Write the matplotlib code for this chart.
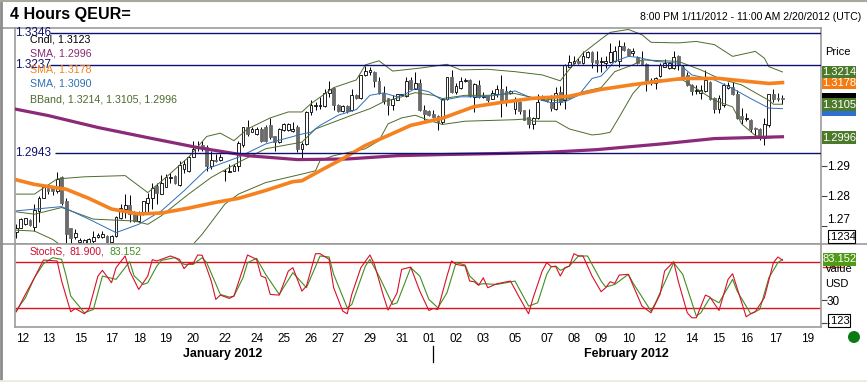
import numpy as np
import matplotlib
matplotlib.use("Agg")
import matplotlib.pyplot as plt
from matplotlib.lines import Line2D
from matplotlib.patches import Rectangle, Circle

plt.rcParams['font.family'] = ['Liberation Sans', 'DejaVu Sans']

W, H = 867, 382

# candles, one value per 4 hour bar
highs = [1.2707,1.2727,1.2729,1.2724,1.2773,1.2800,1.2833,1.2833,1.2833,1.2878,1.2867,1.2794,1.2696,1.2691,1.2661,1.2658,1.2661,1.2685,1.2680,1.2685,
         1.2673,1.2673,1.2735,1.2773,1.2806,1.2804,1.2751,1.2749,1.2782,1.2811,1.2841,1.2844,1.2870,1.2872,1.2874,1.2870,1.2914,1.2917,1.2933,1.2983,
         1.2983,1.2983,1.2967,1.2950,1.2939,1.2939,1.2889,1.2906,1.2906,1.2983,1.3030,1.3051,1.3030,1.3030,1.3028,1.3034,1.3060,1.3000,1.3025,1.3041,
         1.3041,1.3045,1.3034,
         1.2978,1.3082,1.3118,1.3113,1.3130,1.3158,1.3184,1.3164,1.3107,1.3102,1.3102,1.3158,1.3138,1.3205,1.3235,1.3232,1.3217,1.3196,1.3166,1.3127,
         1.3135,1.3141,1.3141,1.3196,1.3196,1.3215,1.3189,1.3104,1.3084,1.3084,1.3068,1.3124,1.3198,1.3219,1.3175,1.3196,1.3192,1.3189,1.3175,1.3187,
         1.3147,1.3134,1.3154,1.3170,1.3204,1.3166,1.3154,1.3130,1.3115,1.3087,1.3090,1.3062,1.3138,1.3135,1.3120,1.3135,1.3164,1.3166,1.3240,1.3273,
         1.3267,1.3261,1.3284,1.3284,1.3284,1.3284,
         1.3264,1.3267,1.3313,1.3301,1.3324,1.3315,1.3295,1.3295,1.3267,1.3284,1.3244,1.3192,1.3198,1.3244,1.3258,1.3246,1.3284,1.3273,1.3238,1.3215,
         1.3172,1.3170,1.3170,1.3219,1.3184,1.3130,1.3135,1.3175,1.3181,1.3181,1.3152,1.3093,1.3075,1.3056,1.3030,1.3024,1.3060,1.3141,1.3158,1.3143,1.3137]
lows = [1.2664,1.2694,1.2705,1.2702,1.2685,1.2713,1.2792,1.2806,1.2804,1.2811,1.2771,1.2642,1.2642,1.2658,1.2644,1.2637,1.2637,1.2647,1.2661,1.2661,
        1.2647,1.2647,1.2667,1.2724,1.2729,1.2713,1.2713,1.2716,1.2738,1.2740,1.2756,1.2775,1.2806,1.2828,1.2844,1.2839,1.2833,1.2874,1.2878,1.2928,
        1.2950,1.2950,1.2883,1.2889,1.2911,1.2914,1.2850,1.2878,1.2881,1.2883,1.2963,1.3000,1.3011,1.3003,1.2980,1.2978,1.2989,1.2950,1.2975,1.3014,
        1.3014,1.3011,1.2944,
        1.2922,1.2970,1.3068,1.3084,1.3090,1.3096,1.3130,1.3087,1.3079,1.3079,1.3076,1.3082,1.3124,1.3124,1.3201,1.3204,1.3164,1.3141,1.3107,1.3068,
        1.3087,1.3118,1.3132,1.3130,1.3155,1.3155,1.3082,1.3053,1.3064,1.3060,1.3017,1.3039,1.3118,1.3143,1.3141,1.3158,1.3181,1.3130,1.3079,1.3127,
        1.3127,1.3113,1.3122,1.3130,1.3062,1.3098,1.3141,1.3073,1.3071,1.3051,1.3025,1.3022,1.3056,1.3118,1.3114,1.3082,1.3084,1.3101,1.3090,1.3230,
        1.3241,1.3241,1.3241,1.3262,1.3227,1.3215,
        1.3215,1.3227,1.3244,1.3247,1.3232,1.3284,1.3269,1.3269,1.3241,1.3238,1.3150,1.3170,1.3158,1.3198,1.3230,1.3225,1.3225,1.3221,1.3192,1.3166,
        1.3135,1.3141,1.3124,1.3147,1.3118,1.3075,1.3075,1.3096,1.3158,1.3135,1.3056,1.3039,1.3048,1.3011,1.2992,1.2985,1.2967,1.3030,1.3113,1.3116,1.3107]
opens = [1.2683,1.2696,1.2707,1.2720,1.2698,1.2751,1.2794,1.2826,1.2826,1.2817,1.2861,1.2784,1.2696,1.2666,1.2651,1.2644,1.2644,1.2653,1.2666,1.2666,
         1.2669,1.2651,1.2669,1.2729,1.2756,1.2771,1.2740,1.2718,1.2740,1.2778,1.2794,1.2833,1.2808,1.2830,1.2859,1.2865,1.2837,1.2889,1.2881,1.2930,
         1.2959,1.2967,1.2963,1.2900,1.2919,1.2917,1.2881,1.2880,1.2883,1.2900,1.2967,1.3028,1.3013,1.3005,1.3022,1.3030,1.3034,1.2997,1.2978,1.3017,
         1.3017,1.3014,1.3028,
         1.2956,1.2972,1.3079,1.3100,1.3100,1.3098,1.3143,1.3161,1.3104,1.3082,1.3100,1.3084,1.3135,1.3127,1.3203,1.3215,1.3215,1.3183,1.3143,1.3125,
         1.3104,1.3120,1.3135,1.3132,1.3187,1.3158,1.3175,1.3084,1.3081,1.3071,1.3065,1.3045,1.3122,1.3196,1.3147,1.3161,1.3183,1.3187,1.3130,1.3170,
         1.3130,1.3132,1.3124,1.3139,1.3158,1.3150,1.3143,1.3090,1.3113,1.3084,1.3062,1.3037,1.3059,1.3120,1.3118,1.3113,1.3090,1.3147,1.3118,1.3232,
         1.3244,1.3250,1.3244,1.3264,1.3282,1.3253,
         1.3247,1.3244,1.3247,1.3250,1.3250,1.3304,1.3292,1.3278,1.3264,1.3255,1.3241,1.3187,1.3175,1.3201,1.3232,1.3227,1.3227,1.3267,1.3232,1.3204,
         1.3170,1.3150,1.3143,1.3150,1.3181,1.3127,1.3090,1.3104,1.3161,1.3164,1.3139,1.3064,1.3056,1.3053,1.3025,1.3022,1.2992,1.3034,1.3141,1.3127,1.3127]
closes = [1.2696,1.2724,1.2727,1.2705,1.2753,1.2794,1.2828,1.2817,1.2817,1.2856,1.2778,1.2675,1.2664,1.2680,1.2655,1.2655,1.2658,1.2666,1.2673,1.2675,
          1.2651,1.2669,1.2731,1.2760,1.2771,1.2740,1.2718,1.2742,1.2784,1.2794,1.2826,1.2811,1.2844,1.2861,1.2863,1.2841,1.2903,1.2906,1.2930,1.2956,
          1.2963,1.2956,1.2900,1.2917,1.2914,1.2928,1.2883,1.2883,1.2900,1.2975,1.3028,1.3005,1.3022,1.3022,1.2983,1.2983,1.2994,1.2978,1.3022,1.3037,
          1.3037,1.3022,1.2956,
          1.2972,1.3079,1.3104,1.3104,1.3103,1.3143,1.3155,1.3104,1.3082,1.3100,1.3082,1.3135,1.3126,1.3203,1.3217,1.3219,1.3183,1.3143,1.3116,1.3104,
          1.3123,1.3139,1.3139,1.3183,1.3158,1.3175,1.3084,1.3073,1.3068,1.3062,1.3045,1.3122,1.3196,1.3147,1.3166,1.3183,1.3187,1.3132,1.3173,1.3130,
          1.3134,1.3120,1.3143,1.3155,1.3118,1.3116,1.3150,1.3120,1.3081,1.3053,1.3037,1.3059,1.3113,1.3123,1.3116,1.3093,1.3143,1.3113,1.3238,1.3247,
          1.3252,1.3244,1.3269,1.3282,1.3247,1.3246,
          1.3252,1.3252,1.3282,1.3284,1.3304,1.3288,1.3273,1.3284,1.3244,1.3241,1.3181,1.3175,1.3192,1.3238,1.3246,1.3244,1.3264,1.3241,1.3196,1.3170,
          1.3150,1.3152,1.3152,1.3187,1.3124,1.3090,1.3127,1.3170,1.3170,1.3139,1.3059,1.3056,1.3059,1.3022,1.3022,1.2992,1.3039,1.3139,1.3123,1.3124,1.3123]

# overlays, read at the bars where the line bends
purple_bars = [0,7,18,29,40,51,62,73,84,95,106,117,128,143,154,169]
purple_vals = [1.3088,1.3067,1.3027,1.2993,1.2960,1.2933,1.2920,1.2922,1.2933,1.2937,1.2940,1.2944,1.2953,1.2973,1.2990,1.2996]

orange_bars = [0,4,11,16,21,27,32,38,44,49,55,61,63,67,72,77,82,87,94,101,107,114,122,129,136,141,147,155,162,166,169]
orange_vals = [1.2853,1.2838,1.2822,1.2792,1.2757,1.2741,1.2744,1.2760,1.2779,1.2792,1.2818,1.2847,1.2850,1.2883,1.2923,1.2967,1.3000,1.3034,1.3058,1.3097,
               1.3111,1.3125,1.3132,1.3155,1.3171,1.3181,1.3192,1.3192,1.3181,1.3175,1.3178]

blue_bars = [0,10,16,22,27,32,37,42,49,55,63,65,67,71,75,78,81,84,86,88,91,94,98,102,106,110,113,118,121,124,127,129,132,135,137,141,146,149,154,158,162,166,169]
blue_vals = [1.2751,1.2765,1.2724,1.2680,1.2707,1.2751,1.2817,1.2889,1.2928,1.2972,1.3005,1.3011,1.3034,1.3068,1.3087,1.3135,1.3143,1.3130,1.3141,1.3158,
             1.3147,1.3118,1.3130,1.3130,1.3135,1.3150,1.3130,1.3110,1.3113,1.3135,1.3192,1.3200,1.3250,1.3267,1.3264,1.3250,1.3244,1.3204,1.3187,1.3158,
             1.3124,1.3092,1.3090]

upper_bars = [0,4,9,15,24,29,33,38,42,45,48,51,56,60,63,65,70,75,77,80,83,89,95,98,104,110,116,120,121,125,129,131,135,138,140,146,150,154,158,163,165,166,169]
upper_vals = [1.2806,1.2806,1.2856,1.2863,1.2867,1.2811,1.2861,1.2928,1.2997,1.3008,1.2983,1.3022,1.3059,1.3079,1.3079,1.3107,1.3161,1.3187,1.3238,1.3252,
              1.3217,1.3227,1.3240,1.3221,1.3223,1.3215,1.3204,1.3184,1.3204,1.3278,1.3326,1.3349,1.3359,1.3341,1.3315,1.3313,1.3318,1.3307,1.3267,1.3284,
              1.3261,1.3232,1.3214]

mid_bars = [0,4,10,17,26,29,32,38,43,49,55,63,66,70,74,78,81,85,88,92,94,99,104,110,114,119,122,125,129,132,136,138,146,151,155,160,166,167,169]
mid_vals = [1.2748,1.2740,1.2762,1.2724,1.2718,1.2707,1.2735,1.2806,1.2861,1.2911,1.2956,1.2978,1.3022,1.3045,1.3068,1.3090,1.3113,1.3130,1.3144,1.3135,
            1.3124,1.3135,1.3135,1.3141,1.3127,1.3118,1.3124,1.3147,1.3161,1.3215,1.3238,1.3255,1.3250,1.3221,1.3192,1.3170,1.3118,1.3105,1.3105]

lower_bars = [0,4,8,10,12,37,39,41,46,49,55,63,66,67,70,77,80,82,85,88,91,94,99,110,113,114,119,122,127,129,131,133,136,138,142,147,150,154,158,160,163,166,169]
lower_vals = [1.2688,1.2685,1.2658,1.2637,1.2620,1.2620,1.2642,1.2675,1.2773,1.2806,1.2844,1.2872,1.2883,1.2917,1.2933,1.2956,1.2983,1.3039,1.3059,1.3068,
              1.3051,1.3037,1.3048,1.3053,1.3056,1.3048,1.3048,1.3022,1.3002,1.3005,1.3011,1.3062,1.3141,1.3175,1.3187,1.3187,1.3158,1.3118,1.3096,1.3039,
              1.3000,1.2992,1.2996]

level_vals = [1.3346, 1.3237, 1.2943]
level_from = [7.5, 7.5, 8.5]

# stochastics
red_bars = [0,2,4,6,7,9,10,12,13,15,16,18,19,21,22,24,25,27,29,30,31,34,36,37,38,39,40,41,43,44,45,47,48,51,53,54,55,56,58,60,61,63,64,66,67,69,70,72,73,74,
            76,78,79,81,82,84,85,87,89,91,92,93,95,96,97,99,100,101,102,103,104,106,109,111,113,114,116,117,118,119,120,121,122,123,124,125,127,129,130,131,
            132,133,135,138,140,142,143,145,146,148,149,150,152,153,155,157,158,161,162,163,165,167,168,169]
red_vals = [14.8,37.4,59.1,82.2,81.7,80.9,54.8,14.8,19.1,12.2,17.8,61.3,68.7,52.6,72.2,87.4,67.8,43.9,61.3,82.6,80.9,87.4,83.0,70.9,77.4,77.4,88.7,88.3,54.8,30.9,
            36.5,32.2,35.2,88.7,83.0,61.3,59.1,37.4,36.5,67.8,72.2,41.7,48.3,90.4,90.4,83.0,46.1,15.7,12.2,37.4,72.2,88.7,76.5,35.2,17.0,39.6,70.0,73.0,41.7,16.5,
            19.1,17.8,61.3,80.9,76.5,74.3,54.8,53.9,49.1,59.1,46.1,51.3,54.8,33.0,12.2,33.0,67.8,78.7,73.5,73.5,61.3,72.2,74.3,90.4,87.4,87.4,61.3,40.9,46.1,53.9,
            51.7,62.6,63.5,22.2,13.5,37.4,67.8,80.0,54.8,13.5,7.0,7.0,36.5,33.9,16.5,57.0,64.3,8.3,12.2,14.8,33.0,78.7,86.1,81.9]

green_bars = [0,2,4,6,8,10,11,12,14,15,17,19,22,25,26,28,29,31,32,35,37,39,41,42,45,47,48,50,51,53,55,58,61,64,67,69,70,73,74,77,78,80,83,84,87,89,91,93,
              95,97,99,100,102,103,106,110,113,115,117,118,119,120,122,124,126,129,130,132,135,136,140,141,145,147,150,151,153,155,158,159,162,164,166,168,169]
green_vals = [16.5,33.0,59.1,77.4,85.2,83.0,61.3,35.2,20.9,13.5,17.8,61.3,57.0,80.0,61.3,50.4,52.6,74.3,81.7,85.2,76.5,76.5,85.2,78.7,37.4,33.9,35.2,59.1,78.7,84.3,
              63.5,37.4,65.7,46.1,87.4,86.1,63.5,20.0,24.3,74.3,83.0,61.3,24.3,26.5,72.2,61.3,30.9,20.0,39.6,78.7,75.7,61.3,50.4,51.3,50.4,54.8,22.2,26.5,63.5,73.5,
              74.3,68.7,74.3,87.4,87.4,54.8,47.0,50.4,63.5,52.6,15.7,26.5,78.7,63.5,9.1,13.5,33.0,26.5,57.0,41.7,12.2,17.8,59.1,78.7,83.15]

stoch_levels = [80, 20]

# date axis
tick_bars = [1.3,7.2,14.3,21,27.3,33,39,46,53,59,65,71,78,85,91,97,103,110,117,123,129,135,142,149,155,161,167.6,174.5]
tick_labels = ["12","13","15","17","18","19","20","22","24","25","26","27","29","31","01",
               "02","03","05","07","08","09","10","12","14","15","16","17","19"]

PURPLE = "#8a2a78"
ORANGE = "#f5821f"
BLUE = "#2f6fb7"
GREEN = "#4d6b2c"
NAVY = "#10106e"
FRAME = "#9c9c9c"


def fx(x):
    return x / W


def fy(y):
    return 1 - y / H


def panel(left, top, right, bottom):
    return fig.add_axes([fx(left), fy(bottom), (right - left) / W, (bottom - top) / H])


def tag(top, bottom, color, label=None):
    fig.patches.append(Rectangle((fx(822), fy(bottom)), 34 / W, (bottom - top) / H,
                                 transform=fig.transFigure, facecolor=color, edgecolor="none"))
    if label:
        fig.text(fx(839), fy((top + bottom) / 2), label, color="white", fontsize=8,
                 ha="center", va="center")


def frame_line(x0, y0, x1, y1, color=FRAME, lw=1.2):
    fig.add_artist(Line2D([fx(x0), fx(x1)], [fy(y0), fy(y1)], color=color, lw=lw,
                          transform=fig.transFigure))


fig = plt.figure(figsize=(W / 100, H / 100), dpi=100, facecolor="white")

ax = panel(15, 28, 821, 244)
ax2 = panel(15, 244, 821, 327)
xlim = (-0.29, 177.5)

bars = np.arange(len(closes))
o = np.array(opens)
c = np.array(closes)
top = np.maximum(o, c)
bot = np.minimum(o, c)
face = ["white" if cl >= op else "#6b6b6b" for op, cl in zip(opens, closes)]
edge = ["black" if cl >= op else "#6b6b6b" for op, cl in zip(opens, closes)]

ax.vlines(bars, lows, highs, color="black", lw=0.7, zorder=2)
ax.bar(bars, top - bot, bottom=bot, width=0.62, color=face, edgecolor=edge, linewidth=0.6, zorder=2.5)

ax.plot(upper_bars, upper_vals, color=GREEN, lw=0.7, zorder=3)
ax.plot(mid_bars, mid_vals, color=GREEN, lw=0.7, zorder=3)
ax.plot(lower_bars, lower_vals, color=GREEN, lw=0.7, zorder=3)
ax.plot(blue_bars, blue_vals, color=BLUE, lw=0.7, zorder=3.2)
ax.plot(purple_bars, purple_vals, color=PURPLE, lw=2.3, zorder=4)
ax.plot(orange_bars, orange_vals, color=ORANGE, lw=2.6, zorder=4.2)

for val, start in zip(level_vals, level_from):
    ax.hlines(val, start, xlim[1], color=NAVY, lw=1.0, zorder=5)

ax.set_yscale("log")
ax.set_xlim(xlim)
ax.set_ylim(1.2643, 1.3364)
ax.set_xticks([])
ax.yaxis.tick_right()
ax.set_yticks([1.29, 1.28, 1.27])
ax.set_yticklabels(["1.29", "1.28", "1.27"], fontsize=8.5)
ax.yaxis.set_minor_locator(matplotlib.ticker.NullLocator())
ax.tick_params(axis="y", length=4, width=0.8, color="#444444", pad=0)
ax.get_yticklabels()[2].set_verticalalignment("bottom")

level_text = ["1.3346", "1.3237", "1.2943"]
level_y = [33, 65, 152.5]
for s, y in zip(level_text, level_y):
    fig.text(fx(15.5), fy(y), s, color=NAVY, fontsize=8.5, va="center", zorder=6)

legend_rows = [("Cndl, 1.3123", "black", 39), ("SMA, 1.2996", PURPLE, 54), ("SMA, 1.3178", ORANGE, 69),
               ("SMA, 1.3090", BLUE, 84), ("BBand, 1.3214, 1.3105, 1.2996", GREEN, 99)]
for s, col, y in legend_rows:
    fig.text(fx(30), fy(y), s, color=col, fontsize=7.7, va="center", zorder=6)

ax2.plot(green_bars, green_vals, color="#3f8f1f", lw=0.8, zorder=3)
ax2.plot(red_bars, red_vals, color="#d8102a", lw=0.8, zorder=3.2)
ax2.hlines(stoch_levels, xlim[0], xlim[1], color="#d8141c", lw=1.0, zorder=2)
ax2.set_xlim(xlim)
ax2.set_ylim(-5, 103)
ax2.set_xticks(tick_bars)
ax2.set_xticklabels(tick_labels, fontsize=8.5)
ax2.tick_params(axis="x", length=0, pad=4.5)
ax2.yaxis.tick_right()
ax2.set_yticks([30, 0])
ax2.set_yticklabels(["30", ""], fontsize=8.5)
ax2.tick_params(axis="y", length=4, width=0.8, color="#444444", pad=0)

for a in (ax, ax2):
    for s in a.spines.values():
        s.set_color(FRAME)
        s.set_linewidth(1.2)

fig.text(fx(30), fy(252), "StochS,", color="#c8102e", fontsize=7.5, va="center")
fig.text(fx(70), fy(252), "81.900,", color="#c8102e", fontsize=7.5, va="center")
fig.text(fx(110), fy(252), "83.152", color="#3f8f1f", fontsize=7.5, va="center")

# header and footer text
fig.text(fx(10), fy(15), "4 Hours QEUR=", fontsize=11.6, fontweight="bold", va="center")
fig.text(fx(861), fy(17), "8:00 PM 1/11/2012 - 11:00 AM 2/20/2012 (UTC)", fontsize=7.6, ha="right", va="center")
fig.text(fx(223), fy(354), "January 2012", fontsize=9, fontweight="bold", ha="center", va="center")
fig.text(fx(626), fy(354), "February 2012", fontsize=9, fontweight="bold", ha="center", va="center")
frame_line(433, 346, 433, 362, color="black", lw=0.9)

# right hand scale
fig.text(fx(825), fy(52), "Price", fontsize=8, va="center")
tag(93, 99, "black")
tag(111, 116, "#2f6fd0")
tag(66, 78, "#4c7a2a", "1.3214")
tag(78, 89, "#f57a10", "1.3178")
tag(98, 111, "#4c7a2a", "1.3105")
tag(131, 144, "#4c7a2a", "1.2996")
fig.patches.append(Rectangle((fx(828), fy(243)), 27 / W, 13 / H, transform=fig.transFigure,
                             facecolor="white", edgecolor="black", lw=0.8, zorder=6))
fig.text(fx(841.5), fy(236.5), ".1234", fontsize=8, ha="center", va="center", zorder=7)

fig.text(fx(825), fy(269), "Value", fontsize=8, va="center")
fig.patches.append(Rectangle((fx(823), fy(266)), 33 / W, 13 / H, transform=fig.transFigure,
                             facecolor="#4f9a16", edgecolor="none", zorder=6))
fig.text(fx(839.5), fy(259.5), "83.152", color="white", fontsize=8, ha="center", va="center", zorder=7)
frame_line(823, 267, 843, 267, color="#c0401a", lw=1.0)
fig.text(fx(825), fy(284), "USD", fontsize=8, va="center")
fig.patches.append(Rectangle((fx(828), fy(327)), 22 / W, 13 / H, transform=fig.transFigure,
                             facecolor="white", edgecolor="black", lw=0.8, zorder=6))
fig.text(fx(839), fy(320.5), ".123", fontsize=8, ha="center", va="center", zorder=7)

fig.patches.append(Circle((854, H - 337), 6, transform=None, facecolor="#0a7a14", edgecolor="none"))

# window border
frame_line(0, 28, 15, 28)
frame_line(0, 244, 15, 244)
frame_line(821, 244, 867, 244)
frame_line(1, 0, 1, 379, color="#8c8c8c", lw=2)
frame_line(0, 0.5, 867, 0.5, color="#a8a8a0", lw=1.5)
frame_line(0, 380.5, 867, 380.5, color="#ecece0", lw=2)

fig.savefig("out.png", dpi=100)
